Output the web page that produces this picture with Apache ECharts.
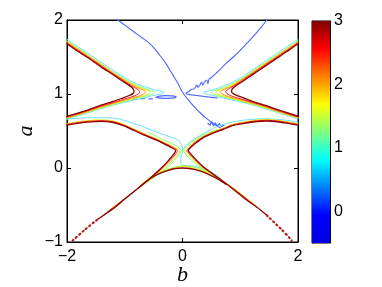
<!DOCTYPE html>
<html><head><meta charset="utf-8">
<script src="https://cdn.jsdelivr.net/npm/echarts@6/dist/echarts.min.js"></script>
<style>html,body{margin:0;padding:0;background:#fff}#c{width:382px;height:287px}</style>
</head><body><div id="c"></div>
<script>
// ---- axis ticks ----
const xTicks = [-2, 0, 2];
const yTicks = [-1, 0, 1, 2];
const cbTicks = [0, 1, 2, 3];
const cbRange = [-0.5, 3];

// ---- upper-left hyperbola, levels (1 = cyan ... 6 = dark red) ----
const ulh6 = [[-2,1.68],[-1.8,1.57],[-1.6,1.47],[-1.4,1.36],[-1.2,1.26],[-1.05,1.18],[-0.95,1.13],[-0.88,1.09],[-0.845,1.055],[-0.84,1.03],[-0.86,1.005],[-0.92,0.98],[-1.04,0.945],[-1.2,0.9],[-1.44,0.84],[-1.7,0.77],[-2,0.7]];
const ulh5 = [[-2,1.69],[-1.8,1.585],[-1.6,1.48],[-1.4,1.375],[-1.2,1.27],[-1.0,1.17],[-0.88,1.11],[-0.79,1.07],[-0.75,1.045],[-0.74,1.03],[-0.76,1.005],[-0.83,0.975],[-0.95,0.945],[-1.2,0.885],[-1.44,0.83],[-1.7,0.76],[-2,0.69]];
const ulh4 = [[-2,1.70],[-1.8,1.595],[-1.6,1.49],[-1.4,1.385],[-1.2,1.28],[-1.0,1.18],[-0.85,1.11],[-0.72,1.065],[-0.66,1.045],[-0.64,1.03],[-0.66,1.005],[-0.74,0.975],[-0.9,0.94],[-1.2,0.875],[-1.44,0.82],[-1.7,0.75],[-2,0.68]];
const ulh3 = [[-2,1.71],[-1.8,1.605],[-1.6,1.5],[-1.4,1.395],[-1.2,1.29],[-1.0,1.19],[-0.8,1.105],[-0.65,1.06],[-0.58,1.04],[-0.56,1.025],[-0.59,1.0],[-0.68,0.975],[-0.88,0.935],[-1.2,0.865],[-1.44,0.81],[-1.7,0.745],[-2,0.675]];
const ulh2 = [[-2,1.72],[-1.8,1.615],[-1.6,1.51],[-1.4,1.405],[-1.2,1.3],[-1.0,1.2],[-0.8,1.12],[-0.6,1.06],[-0.51,1.04],[-0.48,1.025],[-0.51,1.0],[-0.62,0.975],[-0.85,0.93],[-1.2,0.86],[-1.44,0.805],[-1.7,0.74],[-2,0.67]];
const ulh1 = [[-2,1.74],[-1.8,1.635],[-1.6,1.53],[-1.4,1.425],[-1.2,1.32],[-1.0,1.22],[-0.8,1.14],[-0.6,1.085],[-0.45,1.05],[-0.36,1.035],[-0.32,1.025],[-0.36,1.005],[-0.5,0.98],[-0.8,0.925],[-1.2,0.85],[-1.44,0.795],[-1.7,0.73],[-2,0.66]];

// ---- upper-right hyperbola ----
const urh6 = [[2,1.68],[1.8,1.57],[1.6,1.465],[1.4,1.36],[1.2,1.255],[1.05,1.175],[0.95,1.125],[0.89,1.09],[0.855,1.06],[0.85,1.035],[0.87,1.01],[0.93,0.985],[1.05,0.95],[1.2,0.905],[1.44,0.845],[1.7,0.775],[2,0.7]];
const urh5 = [[2,1.69],[1.8,1.585],[1.6,1.48],[1.4,1.375],[1.2,1.27],[1.0,1.165],[0.88,1.105],[0.8,1.07],[0.76,1.045],[0.75,1.03],[0.77,1.005],[0.84,0.975],[0.96,0.945],[1.2,0.89],[1.44,0.835],[1.7,0.765],[2,0.69]];
const urh4 = [[2,1.70],[1.8,1.595],[1.6,1.49],[1.4,1.385],[1.2,1.28],[1.0,1.175],[0.85,1.105],[0.73,1.065],[0.675,1.045],[0.66,1.03],[0.68,1.005],[0.76,0.975],[0.92,0.94],[1.2,0.88],[1.44,0.825],[1.7,0.755],[2,0.685]];
const urh3 = [[2,1.71],[1.8,1.605],[1.6,1.5],[1.4,1.395],[1.2,1.29],[1.0,1.185],[0.8,1.1],[0.66,1.055],[0.6,1.04],[0.58,1.025],[0.61,1.0],[0.7,0.975],[0.9,0.935],[1.2,0.87],[1.44,0.815],[1.7,0.75],[2,0.68]];
const urh2 = [[2,1.72],[1.8,1.615],[1.6,1.51],[1.4,1.405],[1.2,1.3],[1.0,1.195],[0.8,1.115],[0.62,1.06],[0.53,1.04],[0.5,1.025],[0.53,1.0],[0.64,0.975],[0.87,0.93],[1.2,0.865],[1.44,0.81],[1.7,0.745],[2,0.675]];
const urh1 = [[2,1.74],[1.8,1.635],[1.6,1.53],[1.4,1.425],[1.2,1.32],[1.0,1.215],[0.8,1.135],[0.6,1.075],[0.47,1.045],[0.39,1.03],[0.36,1.02],[0.4,1.0],[0.55,0.975],[0.85,0.92],[1.2,0.855],[1.44,0.8],[1.7,0.735],[2,0.665]];

// ---- lower-left ">" ----
const llx6 = [[-2,0.58],[-1.85,0.6],[-1.65,0.62],[-1.4,0.63],[-1.2,0.615],[-1.0,0.565],[-0.86,0.515],[-0.65,0.44],[-0.46,0.38],[-0.3,0.32],[-0.18,0.27],[-0.12,0.24],[-0.13,0.21],[-0.2,0.14],[-0.34,0.02],[-0.55,-0.13],[-0.75,-0.26],[-1.0,-0.42],[-1.15,-0.52],[-1.35,-0.63],[-1.48,-0.7]];
const llx6dots = [[-1.48,-0.7],[-1.7,-0.84],[-1.9,-0.98],[-1.93,-1.0]];
const llx5 = [[-2,0.59],[-1.85,0.61],[-1.65,0.63],[-1.4,0.64],[-1.2,0.625],[-1.0,0.575],[-0.86,0.525],[-0.65,0.45],[-0.46,0.39],[-0.3,0.33],[-0.16,0.275],[-0.09,0.24],[-0.1,0.21],[-0.17,0.14],[-0.32,0.02],[-0.52,-0.12],[-0.72,-0.245],[-1.0,-0.415],[-1.35,-0.625]];
const llx3 = [[-2,0.6],[-1.85,0.62],[-1.65,0.64],[-1.4,0.65],[-1.2,0.635],[-1.0,0.585],[-0.86,0.535],[-0.65,0.46],[-0.46,0.4],[-0.3,0.34],[-0.14,0.28],[-0.05,0.24],[-0.06,0.21],[-0.13,0.14],[-0.28,0.02],[-0.48,-0.11],[-0.7,-0.235],[-1.0,-0.41],[-1.3,-0.59]];
const llx2 = [[-0.6,0.49],[-0.3,0.37],[-0.1,0.3],[-0.03,0.24],[-0.04,0.2],[-0.1,0.14],[-0.25,0.02],[-0.45,-0.1],[-0.65,-0.22]];
const llx1 = [[-2,0.66],[-1.6,0.68],[-1.15,0.67],[-0.8,0.59],[-0.5,0.5],[-0.25,0.43],[-0.08,0.38],[-0.01,0.3],[0.0,0.22],[-0.03,0.12],[-0.03,0.06],[0.02,0.035],[0.2,0.025],[0.4,-0.02],[0.55,-0.08],[0.65,-0.13]];

// ---- lower arch ----
const la6 = [[-0.75,-0.26],[-0.6,-0.165],[-0.45,-0.095],[-0.3,-0.045],[-0.15,-0.01],[0,0.0],[0.15,-0.01],[0.3,-0.04],[0.45,-0.085],[0.6,-0.145],[0.75,-0.22]];
const la3 = [[-0.68,-0.2],[-0.55,-0.125],[-0.4,-0.065],[-0.25,-0.025],[-0.1,0.01],[0,0.02],[0.12,0.01],[0.28,-0.02],[0.42,-0.06],[0.56,-0.115],[0.68,-0.17]];
const la2 = [[-0.6,-0.14],[-0.45,-0.075],[-0.3,-0.03],[-0.15,0.01],[0,0.03],[0.15,0.02],[0.3,-0.01],[0.45,-0.06],[0.6,-0.12]];

// ---- lower-right "<" ----
const lrx6 = [[2,0.58],[1.85,0.6],[1.65,0.625],[1.46,0.635],[1.25,0.625],[1.05,0.6],[0.88,0.575],[0.7,0.52],[0.5,0.46],[0.36,0.41],[0.22,0.33],[0.12,0.26],[0.1,0.235],[0.12,0.21],[0.2,0.14],[0.34,0.03],[0.5,-0.065],[0.65,-0.15],[0.9,-0.3],[1.1,-0.425],[1.34,-0.56],[1.46,-0.64]];
const lrx6dots = [[1.46,-0.64],[1.7,-0.82],[1.86,-0.95],[1.89,-0.98]];
const lrx5 = [[2,0.59],[1.85,0.61],[1.65,0.635],[1.46,0.645],[1.25,0.635],[1.05,0.61],[0.88,0.585],[0.7,0.53],[0.5,0.47],[0.36,0.42],[0.2,0.335],[0.1,0.26],[0.075,0.235],[0.095,0.21],[0.18,0.14],[0.32,0.035],[0.48,-0.06],[0.62,-0.14],[0.9,-0.29],[1.3,-0.535]];
const lrx3 = [[2,0.6],[1.85,0.62],[1.65,0.645],[1.46,0.655],[1.25,0.645],[1.05,0.62],[0.88,0.595],[0.7,0.54],[0.5,0.48],[0.36,0.43],[0.18,0.34],[0.07,0.26],[0.04,0.235],[0.06,0.21],[0.15,0.14],[0.29,0.04],[0.45,-0.05],[0.6,-0.13],[0.9,-0.28],[1.25,-0.5]];
const lrx2 = [[0.6,0.52],[0.36,0.445],[0.15,0.35],[0.04,0.27],[0.02,0.235],[0.04,0.2],[0.12,0.13],[0.26,0.035],[0.42,-0.045],[0.58,-0.12]];
const lrx1 = [[2,0.62],[1.8,0.645],[1.46,0.665],[1.1,0.65],[0.8,0.61],[0.6,0.56],[0.4,0.48],[0.2,0.39],[0.08,0.32],[0.0,0.24]];

// ---- level-0 (blue) contours ----
const blue1 = [[-1.12,2],[-0.98,1.92],[-0.85,1.845],[-0.7,1.76],[-0.58,1.69],[-0.48,1.61],[-0.4,1.53],[-0.33,1.46],[-0.27,1.39],[-0.2,1.3],[-0.13,1.21],[-0.07,1.13],[-0.02,1.05],[0.03,0.99],[0.1,0.92],[0.2,0.83],[0.3,0.75],[0.4,0.68],[0.5,0.62],[0.58,0.58],[0.66,0.54]];
const blue2 = [[1.46,2],[1.36,1.9],[1.25,1.8],[1.12,1.69],[1.0,1.59],[0.88,1.5],[0.75,1.41],[0.65,1.33],[0.58,1.28],[0.5,1.22],[0.46,1.2],[0.44,1.14],[0.42,1.19],[0.38,1.16],[0.35,1.12],[0.33,1.16],[0.3,1.12],[0.27,1.09],[0.25,1.12],[0.2,1.07],[0.15,1.06],[0.1,1.03],[0.06,1.01],[0.1,0.995],[0.2,0.985],[0.3,0.975],[0.4,0.965],[0.5,0.955],[0.6,0.945]];
const blueBits = [
  [[-0.85,0.93],[-0.79,0.935]],
  [[-0.72,0.935],[-0.66,0.94]],
  [[-0.58,0.935],[-0.52,0.935]],
  [[-0.46,0.955],[-0.4,0.972],[-0.3,0.978],[-0.18,0.975],[-0.11,0.962],[-0.14,0.948],[-0.25,0.942],[-0.38,0.944],[-0.46,0.955]],
  [[0.44,0.6],[0.48,0.58],[0.5,0.63],[0.54,0.57],[0.57,0.61],[0.6,0.56],[0.64,0.6],[0.68,0.56],[0.72,0.58]]
];

const C = {
  l6: '#8c0000', l5: '#ff1a1a', l4: '#ff8c1a', l3: '#e8e800',
  l2: '#8cff66', l1: '#66e0ff', l0: '#4d66ff'
};

function ln(data, color, width, dash) {
  return {
    type: 'line', xAxisIndex: 0, yAxisIndex: 0, data: data,
    showSymbol: false, symbol: 'none', smooth: 0.25, silent: true,
    lineStyle: { color: color, width: width, type: dash || 'solid', cap: 'round' },
    animation: false
  };
}

const series = [];
series.push(ln(blue1, C.l0, 1.1));
series.push(ln(blue2, C.l0, 1.1));
blueBits.forEach(s => series.push(ln(s, C.l0, 1.2)));
[ulh1, urh1, llx1, lrx1].forEach(d => series.push(ln(d, C.l1, 1)));
[ulh2, urh2, llx2, lrx2, la2].forEach(d => series.push(ln(d, C.l2, 1)));
[ulh3, urh3, llx3, lrx3, la3].forEach(d => series.push(ln(d, C.l3, 1)));
[ulh4, urh4].forEach(d => series.push(ln(d, C.l4, 1)));
[ulh5, urh5, llx5, lrx5].forEach(d => series.push(ln(d, C.l5, 1)));
[ulh6, urh6, llx6, lrx6, la6].forEach(d => series.push(ln(d, C.l6, 1.3)));
series.push(ln(llx6dots, '#b02020', 2.2, [1.2, 3.2]));
series.push(ln(lrx6dots, '#b02020', 2.2, [1.2, 3.2]));

// colorbar
series.push({
  type: 'custom', xAxisIndex: 2, yAxisIndex: 2, silent: true, animation: false,
  data: [[0, cbRange[0], cbRange[1]]],
  renderItem: function (params, api) {
    const p0 = api.coord([0, api.value(1)]);
    const p1 = api.coord([1, api.value(2)]);
    return {
      type: 'rect',
      shape: { x: p0[0], y: p1[1], width: p1[0] - p0[0], height: p0[1] - p1[1] },
      style: {
        fill: new echarts.graphic.LinearGradient(0, 1, 0, 0, [
          { offset: 0, color: '#0000e0' },
          { offset: 0.125, color: '#0000ff' },
          { offset: 0.375, color: '#00ffff' },
          { offset: 0.625, color: '#ffff00' },
          { offset: 0.875, color: '#ff0000' },
          { offset: 1, color: '#800000' }
        ])
      }
    };
  }
});

const minus = v => String(v).replace('-', '\u2212');
const lblFont = { color: '#000', fontSize: 16, fontFamily: 'Liberation Sans' };
const nameFont = { color: '#000', fontSize: 22, fontFamily: 'Liberation Serif', fontStyle: 'italic' };
const tickIn = { show: true, inside: true, length: 4, lineStyle: { color: '#000', width: 1 } };
const line = { show: true, onZero: false, lineStyle: { color: '#000', width: 1 } };

const chart = echarts.init(document.getElementById('c'), null, { renderer: 'canvas' });
chart.setOption({
  animation: false,
  backgroundColor: '#fff',
  grid: [
    { left: 67, top: 20, width: 231, height: 222, show: true, borderColor: '#000', borderWidth: 1, backgroundColor: 'transparent', outerBoundsMode: 'none', containLabel: false },
    { left: 312, top: 21, width: 18, height: 222, show: true, borderColor: '#000', borderWidth: 1, backgroundColor: 'transparent', outerBoundsMode: 'none', containLabel: false }
  ],
  xAxis: [
    { type: 'value', gridIndex: 0, position: 'bottom', min: -2, max: 2, interval: 2,
      axisLine: line, axisTick: tickIn, splitLine: { show: false },
      axisLabel: Object.assign({ margin: 7, formatter: minus }, lblFont),
      name: 'b', nameLocation: 'middle', nameGap: 22, nameMoveOverlap: false, nameTextStyle: nameFont },
    { type: 'value', gridIndex: 0, position: 'top', min: -2, max: 2, interval: 2,
      axisLine: line, axisTick: tickIn, splitLine: { show: false }, axisLabel: { show: false } },
    { type: 'value', gridIndex: 1, min: 0, max: 1, show: false }
  ],
  yAxis: [
    { type: 'value', gridIndex: 0, position: 'left', min: -1, max: 2, interval: 1,
      axisLine: line, axisTick: tickIn, splitLine: { show: false },
      axisLabel: Object.assign({ margin: 4, formatter: minus }, lblFont),
      name: 'a', nameLocation: 'middle', nameGap: 30, nameMoveOverlap: false, nameTextStyle: nameFont },
    { type: 'value', gridIndex: 0, position: 'right', min: -1, max: 2, interval: 1,
      axisLine: line, axisTick: tickIn, splitLine: { show: false }, axisLabel: { show: false } },
    { type: 'value', gridIndex: 1, position: 'right', min: cbRange[0], max: cbRange[1],
      axisLine: line, splitLine: { show: false },
      axisTick: { show: true, inside: true, length: 3, customValues: cbTicks, lineStyle: { color: '#000' } },
      axisLabel: Object.assign({ margin: 4, customValues: cbTicks, formatter: minus }, lblFont) },
    { type: 'value', gridIndex: 1, position: 'left', min: cbRange[0], max: cbRange[1],
      axisLine: line, splitLine: { show: false },
      axisTick: { show: true, inside: true, length: 3, customValues: cbTicks, lineStyle: { color: '#000' } },
      axisLabel: { show: false } }
  ],
  series: series
});
</script>
</body></html>
